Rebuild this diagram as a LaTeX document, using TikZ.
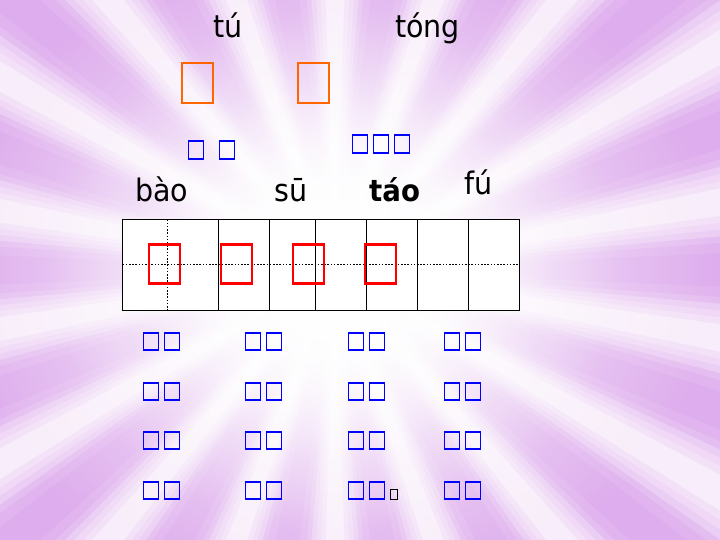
\documentclass[tikz,border=0pt]{standalone}
\usepackage{fontspec}
\setmainfont{DejaVu Sans}[FakeStretch=0.92]
\usetikzlibrary{fadings}
\tikzfading[name=myfade,inner color=transparent!0,outer color=transparent!100]
\definecolor{lav}{HTML}{F3E0F8}
\definecolor{ray}{HTML}{D99EEB}
\definecolor{orng}{HTML}{FF6600}
\definecolor{blu}{HTML}{0000FF}
\tikzset{
  obox/.style={draw=orng,line width=2pt,minimum width=31pt,minimum height=40pt,inner sep=0pt},
  rbox/.style={draw=red,line width=2.1pt,minimum width=31pt,minimum height=39pt,inner sep=0pt},
  bbox/.style={draw=blu,line width=1.2pt,minimum width=15pt,minimum height=17pt,inner sep=0pt},
  tbox/.style={draw=blu,line width=1.2pt,minimum width=15pt,minimum height=18pt,inner sep=0pt},
  kbox/.style={draw=black,line width=1pt,minimum width=7pt,minimum height=10pt,inner sep=0pt},
  py/.style={anchor=base west,inner sep=0pt,font=\fontsize{31}{32}\selectfont},
  gridline/.style={draw=black,line width=1pt},
  dotline/.style={draw=black,line width=0.9pt,dash pattern=on 1.6pt off 1.6pt}
}
\begin{document}
\begin{tikzpicture}[x=1pt,y=-1pt]
\useasboundingbox (0,0) rectangle (720,540);
% background burst
\fill[lav] (0,0) rectangle (720,540);
\coordinate (c) at (335,270);
\foreach \a in {0,20,...,340}{
  \foreach \w in {8,6,4,2.5}{
    \fill[ray,opacity=0.3] (c) -- ++(\a-\w:650) arc[start angle=\a-\w,end angle=\a+\w,radius=650] -- cycle;
  }
}
\foreach \a in {10,30,...,350}{
  \foreach \w in {5,3}{
    \fill[white,opacity=0.25] (c) -- ++(\a-\w:650) arc[start angle=\a-\w,end angle=\a+\w,radius=650] -- cycle;
  }
}
\fill[white,path fading=myfade] (c) ellipse (380 and 330);
\fill[white,path fading=myfade] (c) ellipse (290 and 260);
\fill[white,path fading=myfade] (c) ellipse (220 and 190);
\fill[white,path fading=myfade] (c) ellipse (160 and 140);
% top pinyin and characters
\node[py] (tu) at (213,38) {tú};
\node[py] (tong) at (395,38) {tóng};
\node[obox] (o1) at (197,83) {};
\node[obox] (o2) at (313,83) {};
% small blue
\node[tbox] (s1) at (196,150) {};
\node[tbox] (s2) at (227,150) {};
\node[tbox] (s3) at (360,144) {};
\node[tbox] (s4) at (381,144) {};
\node[tbox] (s5) at (402,144) {};
% pinyin row
\node[py] (bao) at (135,202) {bào};
\node[py] (su) at (274,202) {sū};
\node[py,font=\fontsize{30}{32}\selectfont\bfseries] (tao) at (369,202) {táo};
\node[py] (fu) at (464,195) {fú};
% writing grid
\fill[white] (122.5,219.5) rectangle (519.5,310.5);
\draw[dotline] (122.5,264.5) -- (519.5,264.5);
\draw[dotline] (167.5,219.5) -- (167.5,310.5);
\draw[gridline] (122.5,219.5) rectangle (519.5,310.5);
\foreach \x in {218.5,269.5,315.5,366.5,417.5,468.5}{
  \draw[gridline] (\x,219.5) -- (\x,310.5);
}
\node[rbox] (r1) at (164.5,264) {};
\node[rbox] (r2) at (236.5,264) {};
\node[rbox] (r3) at (308.5,264) {};
\node[rbox] (r4) at (380.5,264) {};
% word list
\foreach \y [count=\i] in {341.5,391.5,440.5,490.5}{
  \foreach \xa/\xb [count=\j] in {151/172,253/274,356/377,452/473}{
    \node[bbox] (w\i\j a) at (\xa,\y) {};
    \node[bbox] (w\i\j b) at (\xb,\y) {};
  }
}
\node[kbox] (dot) at (393.5,494) {};
\end{tikzpicture}
\end{document}
